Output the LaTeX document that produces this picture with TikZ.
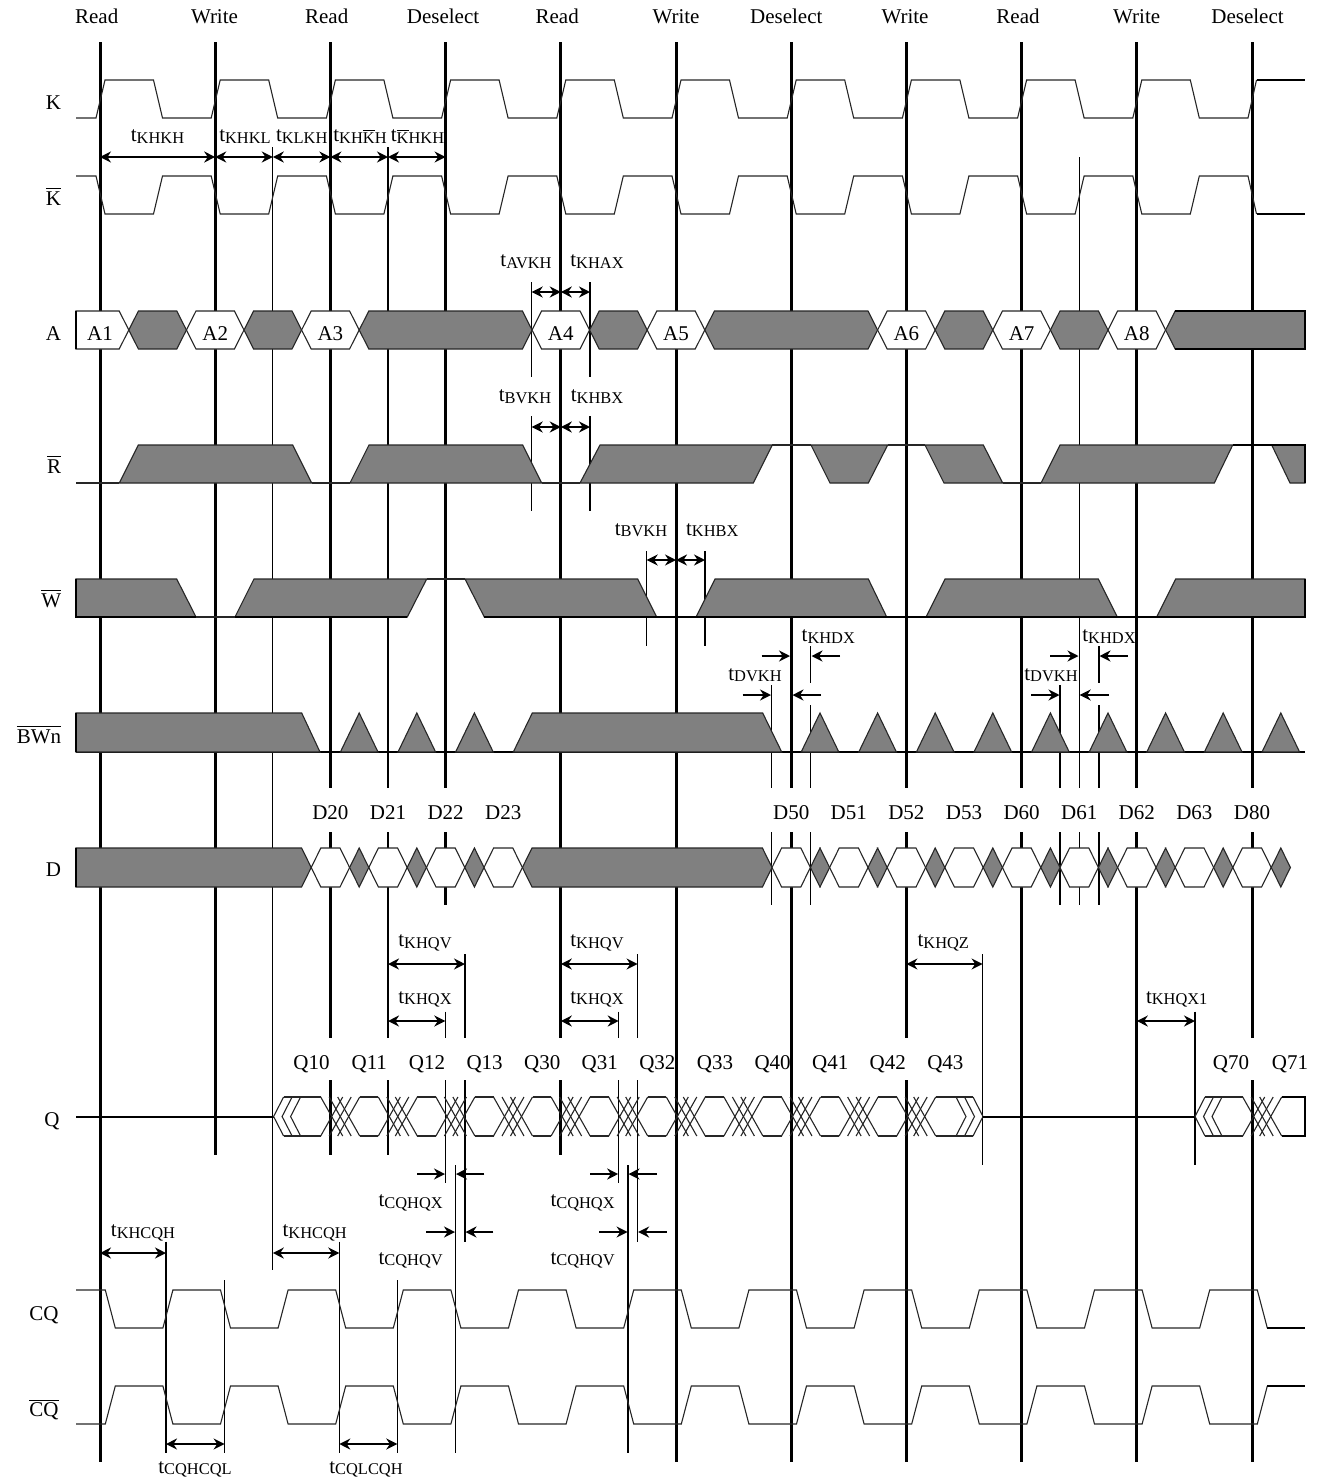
\documentclass[tikz,border=0pt]{standalone}
\usepackage{fontspec}
\setmainfont{Liberation Serif}
\usetikzlibrary{arrows.meta}
\newcommand{\tsub}[1]{t\raisebox{-0.9pt}{\fontsize{8.2}{9}\selectfont #1}}
\newcommand{\ovl}[1]{\ensuremath{\overline{\mbox{#1}}}}
% style, xa, xb, ytop, ybot
\newcommand{\bhex}[5]{\path[#1] ({#2},{(#4+#5)/2}) -- ({#2+9.6},{#4}) -- ({#3-9.6},{#4}) -- ({#3},{(#4+#5)/2}) -- ({#3-9.6},{#5}) -- ({#2+9.6},{#5}) -- cycle;}
\begin{document}
\begin{tikzpicture}[x={(0.5pt,0pt)},y={(0pt,-0.5pt)},
  vk/.style={line width=1.5pt},
  vt/.style={line width=0.6pt},
  sig/.style={line width=0.55pt, draw=black!85},
  edge/.style={line width=1pt, draw=black},
  dcare/.style={fill=gray, draw=black!85, line width=0.55pt},
  valid/.style={fill=white, draw=black!85, line width=0.55pt},
  dimarr/.style={line width=0.9pt, {Stealth[length=5.5pt,width=5.5pt]}-{Stealth[length=5.5pt,width=5.5pt]}},
  onearr/.style={line width=0.9pt, -{Stealth[length=5.5pt,width=5.5pt]}},
  lab/.style={font=\fontsize{10.5}{12}\selectfont, inner sep=0pt, anchor=base},
  rowlab/.style={lab, anchor=base east}]
\useasboundingbox (0,0) rectangle (1323,1483);

% ---------------- vertical reference lines ----------------
\foreach \x/\a/\b in {100/42/1462, 215.2/42/1155, 330.4/42/788, 330.4/832/1038, 330.4/1080/1155,
  445.6/42/788, 445.6/832/905, 560.8/42/1038, 560.8/1080/1155, 676/42/1462,
  791.2/42/788, 791.2/832/1462, 906.4/42/788, 906.4/832/1038, 906.4/1080/1462,
  1021.6/42/788, 1021.6/832/1462, 1136.8/42/788, 1136.8/832/1462,
  1252/42/788, 1252/832/1038, 1252/1080/1462}
  \draw[vk] (\x,\a) -- (\x,\b);
\foreach \x/\a/\b in {272.8/147/1270, 388/147/788, 388/832/1038, 388/1080/1155,
  1079.2/157/788, 1079.2/832/905,
  531.7/282/377, 531.7/416/511, 590/282/377, 590/416/511,
  646.7/551/646, 705/551/646,
  771.7/685/788, 771.7/832/905, 810.7/646/683, 810.7/705/788, 810.7/832/905,
  1060/685/788, 1060/832/905, 1099/646/683, 1099/705/788, 1099/832/905,
  445.3/1011.7/1038, 445.3/1080/1183, 465/954/1038, 465/1080/1241.7,
  618.7/1011.7/1038, 618.7/1080/1183, 637.6/954/1038, 637.6/1080/1241.7,
  982.6/954/1165, 1195/1011.7/1165,
  166/1241.7/1453, 224.6/1280/1453, 339.3/1241.7/1453, 397.3/1280/1453,
  455.4/1165/1453, 628/1165/1453}
  \draw[vt] (\x,\a) -- (\x,\b);

% ---------------- top labels ----------------
\foreach \x/\t [count=\n] in {96.7/Read, 214.5/Write, 326.7/Read, 443/Deselect, 557.2/Read, 676/Write,
  786.3/Deselect, 905/Write, 1018/Read, 1136.7/Write, 1247.5/Deselect}
  \node[lab] (op\n) at (\x,23.3) {\t};

% ---------------- K and K bar ----------------
\draw[sig] (76,118) \foreach \i in {0,...,9} { -- ({96+115.2*\i},118) -- ({105+115.2*\i},80) -- ({153.5+115.2*\i},80) -- ({162.5+115.2*\i},118) } -- (1248,118) -- (1256.5,80);
\draw[edge] (1256.5,80) -- (1305,80);
\draw[sig] (76,176) \foreach \i in {0,...,9} { -- ({96+115.2*\i},176) -- ({105+115.2*\i},214) -- ({153.5+115.2*\i},214) -- ({162.5+115.2*\i},176) } -- (1248,176) -- (1256.5,214);
\draw[edge] (1256.5,214) -- (1305,214);

% ---------------- A ----------------
\path[valid] (76,311) -- (119.2,311) -- (128.8,330) -- (119.2,349) -- (76,349) -- cycle;
\foreach \s/\a/\b in {dcare/128.8/186.4, valid/186.4/244, dcare/244/301.6, valid/301.6/359.2,
  dcare/359.2/532, valid/532/589.6, dcare/589.6/647.2, valid/647.2/704.8, dcare/704.8/877.6,
  valid/877.6/935.2, dcare/935.2/992.8, valid/992.8/1050.4, dcare/1050.4/1108, valid/1108/1165.6}
  {\bhex{\s}{\a}{\b}{311}{349}}
\path[dcare] (1165.6,330) -- (1175.2,311) -- (1305,311) -- (1305,349) -- (1175.2,349) -- cycle;
\draw[edge] (76,311) -- (76,349);
\draw[edge] (1175.2,311) -- (1305,311) -- (1305,349) -- (1175.2,349);
\foreach \x/\t in {100/A1, 215.2/A2, 330.4/A3, 560.8/A4, 676/A5, 906.4/A6, 1021.6/A7, 1136.8/A8}
  \node[lab] (\t) at (\x,340) {\t};

% ---------------- R bar ----------------
\draw[sig] (76,483) -- (119.3,483);
\path[dcare] (119.3,483) -- (138.3,445) -- (292.7,445) -- (311.7,483) -- cycle;
\draw[sig] (311.7,483) -- (350,483);
\path[dcare] (350,483) -- (369,445) -- (522.7,445) -- (541.7,483) -- cycle;
\draw[sig] (541.7,483) -- (580,483);
\path[dcare] (580,483) -- (600,445) -- (772.3,445) -- (753.3,483) -- cycle;
\draw[sig] (772.3,445) -- (811,445);
\path[dcare] (811,445) -- (830,483) -- (868.3,483) -- (887.7,445) -- cycle;
\draw[sig] (887.7,445) -- (925,445);
\path[dcare] (925,445) -- (944,483) -- (1002.7,483) -- (983.3,445) -- cycle;
\draw[sig] (1002.7,483) -- (1041,483);
\path[dcare] (1041,483) -- (1060,445) -- (1232.7,445) -- (1214.3,483) -- cycle;
\path[dcare] (1271.7,445) -- (1290,483) -- (1305,483) -- (1305,445) -- cycle;
\draw[edge] (1232.7,445) -- (1305,445) -- (1305,483);

% ---------------- W bar ----------------
\path[dcare] (76,579) -- (176.7,579) -- (196,617) -- (76,617) -- cycle;
\draw[sig] (196,617) -- (235,617);
\path[dcare] (235,617) -- (254,579) -- (426.7,579) -- (407.3,617) -- cycle;
\draw[sig] (426.7,579) -- (465,579);
\path[dcare] (465,579) -- (484.3,617) -- (656.7,617) -- (637.7,579) -- cycle;
\path[dcare] (696,617) -- (715,579) -- (868.3,579) -- (886.7,617) -- cycle;
\path[dcare] (926,617) -- (945,579) -- (1098.3,579) -- (1117.3,617) -- cycle;
\path[dcare] (1156.7,617) -- (1175.7,579) -- (1305,579) -- (1305,617) -- cycle;
\draw[edge] (76,579) -- (76,617) -- (196,617);
\draw[edge] (235,617) -- (407.3,617);
\draw[edge] (484.3,617) -- (1305,617) -- (1305,579);

% ---------------- BWn bar ----------------
\draw[edge] (76,752) -- (1305,752);
\path[dcare] (76,713) -- (301.7,713) -- (320,752) -- (76,752) -- cycle;
\path[dcare] (513.3,752) -- (532.3,713) -- (762.7,713) -- (781.7,752) -- cycle;
\foreach \c in {359.2,416.8,474.4,820,877.6,935.2,992.8,1050.4,1108,1165.6,1223.2,1280.8}
  \path[dcare] ({\c-18.8},752) -- (\c,713) -- ({\c+18.8},752) -- cycle;
\draw[edge] (76,713) -- (76,752);

% ---------------- D ----------------
\path[dcare] (76,848) -- (301.6,848) -- (311.2,867.5) -- (301.6,887) -- (76,887) -- cycle;
\draw[edge] (76,848) -- (76,887);
\bhex{dcare}{522.4}{772}{848}{887}
\foreach \c in {330.4,388,445.6,503.2,791.2,848.8,906.4,964,1021.6,1079.2,1136.8,1194.4,1252}
  {\bhex{valid}{\c-19.2}{\c+19.2}{848}{887}}
\foreach \c in {330.4,388,445.6,791.2,848.8,906.4,964,1021.6,1079.2,1136.8,1194.4,1252}
  {\bhex{dcare}{\c+19.2}{\c+38.4}{848}{887}}
\foreach \x/\t in {330.4/D20, 388/D21, 445.6/D22, 503.2/D23, 791.2/D50, 848.8/D51, 906.4/D52,
  964/D53, 1021.6/D60, 1079.2/D61, 1136.8/D62, 1194.4/D63, 1252/D80}
  \node[lab] (\t) at (\x,819) {\t};

% ---------------- Q ----------------
\draw[edge] (76,1116.5) -- (273.6,1116.5);
\foreach \j in {0,1,2}
  \draw[sig] ({283.6+8.5*\j},1097) -- ({273.6+8.5*\j},1116.5) -- ({283.6+8.5*\j},1136);
\foreach \a/\b in {283.6/320.7, 359.7/378.3, 417.3/435.9, 474.9/493.5, 532.5/551.1, 590.1/608.7,
  647.7/666.3, 705.3/723.9, 762.9/781.5, 820.5/839.1, 878.1/896.7, 935.7/973, 1205/1242.7}
  {\draw[sig] (\a,1097) -- (\b,1097); \draw[sig] (\a,1136) -- (\b,1136);}
\foreach \g in {320.7,378.3,435.9,493.5,551.1,608.7,666.3,723.9,781.5,839.1,896.7,1242.7}
  \foreach \j in {0,1,2}
  {\draw[sig] ({\g+8.5*\j},1097) -- ({\g+8.5*\j+22},1136);
   \draw[sig] ({\g+8.5*\j},1136) -- ({\g+8.5*\j+22},1097);}
\foreach \j in {0,1,2}
  \draw[sig] ({956+8.5*\j},1097) -- ({966+8.5*\j},1116.5) -- ({956+8.5*\j},1136);
\draw[edge] (983,1116.5) -- (1195,1116.5);
\foreach \j in {0,1,2}
  \draw[sig] ({1205+8.5*\j},1097) -- ({1195+8.5*\j},1116.5) -- ({1205+8.5*\j},1136);
\draw[edge] (1281.7,1097) -- (1305,1097) -- (1305,1136) -- (1281.7,1136);
\foreach \x/\t in {311.5/Q10, 369.3/Q11, 427/Q12, 484.6/Q13, 542.2/Q30, 599.8/Q31, 657.4/Q32,
  715/Q33, 772.6/Q40, 830.2/Q41, 887.8/Q42, 945.4/Q43, 1231/Q70, 1290/Q71}
  \node[lab] (\t) at (\x,1069) {\t};

% ---------------- CQ and CQ bar ----------------
\draw[sig] (76,1290) \foreach \k in {0,...,9} { -- ({105.3+115.2*\k},1290) -- ({115.3+115.2*\k},1328) -- ({162.9+115.2*\k},1328) -- ({172.9+115.2*\k},1290) } -- (1257.3,1290) -- (1267.3,1328);
\draw[edge] (1267.3,1328) -- (1305,1328);
\draw[sig] (76,1424) \foreach \k in {0,...,9} { -- ({105.3+115.2*\k},1424) -- ({115.3+115.2*\k},1386) -- ({162.9+115.2*\k},1386) -- ({172.9+115.2*\k},1424) } -- (1257.3,1424) -- (1267.3,1386);
\draw[edge] (1267.3,1386) -- (1305,1386);

% ---------------- row labels ----------------
\node[rowlab] (lK) at (61.5,109.3) {K};
\node[rowlab] (lKb) at (61.5,205) {\ovl{K}};
\node[rowlab] (lA) at (61.5,340) {A};
\node[rowlab] (lR) at (61.5,473.3) {\ovl{R}};
\node[rowlab] (lW) at (61.5,607.3) {\ovl{W}};
\node[rowlab] (lBW) at (61.5,743.3) {\ovl{BWn}};
\node[rowlab] (lD) at (61.5,876.7) {D};
\node[rowlab] (lQ) at (60,1126) {Q};
\node[rowlab] (lCQ) at (59,1320) {CQ};
\node[rowlab] (lCQb) at (59,1416.7) {\ovl{CQ}};

% ---------------- timing dimensions ----------------
\draw[dimarr] (100,157) -- (215.2,157);
\draw[dimarr] (215.2,157) -- (272.8,157);
\draw[dimarr] (272.8,157) -- (330.4,157);
\draw[dimarr] (330.4,157) -- (388,157);
\draw[dimarr] (388,157) -- (445.6,157);
\node[lab] (tKHKH) at (157.5,141.7) {\tsub{KHKH}};
\node[lab] (tKHKL) at (245,141.7) {\tsub{KHKL}};
\node[lab] (tKLKH) at (301.7,141.7) {\tsub{KLKH}};
\node[lab] (tKHKbH) at (360,141.7) {\tsub{KH\ovl{K}H}};
\node[lab] (tKbHKH) at (417.5,141.7) {\tsub{\ovl{K}HKH}};

\draw[dimarr] (531.7,292) -- (560.8,292);
\draw[dimarr] (560.8,292) -- (590,292);
\node[lab] (tAVKH) at (526,266.5) {\tsub{AVKH}};
\node[lab] (tKHAX) at (597,266.5) {\tsub{KHAX}};

\draw[dimarr] (531.7,427) -- (560.8,427);
\draw[dimarr] (560.8,427) -- (590,427);
\node[lab] (tBVKH1) at (525,401.5) {\tsub{BVKH}};
\node[lab] (tKHBX1) at (597,401.5) {\tsub{KHBX}};

\draw[dimarr] (646.7,560) -- (676,560);
\draw[dimarr] (676,560) -- (705,560);
\node[lab] (tBVKH2) at (641,535) {\tsub{BVKH}};
\node[lab] (tKHBX2) at (712.3,535) {\tsub{KHBX}};

\draw[onearr] (761.7,656) -- (790,656);
\draw[onearr] (840,656) -- (811.5,656);
\node[lab] (tKHDX1) at (828.3,641.7) {\tsub{KHDX}};
\draw[onearr] (742.7,695) -- (771,695);
\draw[onearr] (821,695) -- (792.5,695);
\node[lab] (tDVKH1) at (755,680) {\tsub{DVKH}};

\draw[onearr] (1050,656) -- (1078.5,656);
\draw[onearr] (1127.7,656) -- (1099.5,656);
\node[lab] (tKHDX2) at (1109,641.7) {\tsub{KHDX}};
\draw[onearr] (1031,695) -- (1059.5,695);
\draw[onearr] (1109,695) -- (1079.7,695);
\node[lab] (tDVKH2) at (1051,680) {\tsub{DVKH}};

\draw[dimarr] (388,964) -- (465,964);
\node[lab] (tKHQV1) at (425,946.7) {\tsub{KHQV}};
\draw[dimarr] (388,1021) -- (445.3,1021);
\node[lab] (tKHQX1a) at (425,1003) {\tsub{KHQX}};
\draw[dimarr] (560.8,964) -- (637.6,964);
\node[lab] (tKHQV2) at (597,946.7) {\tsub{KHQV}};
\draw[dimarr] (560.8,1021) -- (618.7,1021);
\node[lab] (tKHQX2) at (597,1003) {\tsub{KHQX}};
\draw[dimarr] (906.4,964) -- (982.6,964);
\node[lab] (tKHQZ) at (943.3,946.7) {\tsub{KHQZ}};
\draw[dimarr] (1136.8,1021) -- (1195,1021);
\node[lab] (tKHQXone) at (1176.7,1003) {\tsub{KHQX1}};

\draw[onearr] (417.4,1174) -- (445,1174);
\draw[onearr] (484.4,1174) -- (456,1174);
\node[lab] (tCQHQX1) at (410.7,1206.7) {\tsub{CQHQX}};
\draw[onearr] (426.3,1232) -- (455,1232);
\draw[onearr] (493.3,1232) -- (465.5,1232);
\node[lab] (tCQHQV1) at (410.7,1264) {\tsub{CQHQV}};
\draw[onearr] (590.2,1174) -- (618.2,1174);
\draw[onearr] (657,1174) -- (628.5,1174);
\node[lab] (tCQHQX2) at (582.6,1206.7) {\tsub{CQHQX}};
\draw[onearr] (599,1232) -- (627.6,1232);
\draw[onearr] (666.5,1232) -- (638.1,1232);
\node[lab] (tCQHQV2) at (582.6,1264) {\tsub{CQHQV}};

\draw[dimarr] (100,1253) -- (166,1253);
\node[lab] (tKHCQH1) at (143,1236.7) {\tsub{KHCQH}};
\draw[dimarr] (272.8,1253) -- (339.3,1253);
\node[lab] (tKHCQH2) at (314.7,1236.7) {\tsub{KHCQH}};
\draw[dimarr] (166,1444) -- (224.6,1444);
\node[lab] (tCQHCQL) at (195,1473) {\tsub{CQHCQL}};
\draw[dimarr] (339.3,1444) -- (397.3,1444);
\node[lab] (tCQLCQH) at (366,1473) {\tsub{CQLCQH}};
\end{tikzpicture}
\end{document}
